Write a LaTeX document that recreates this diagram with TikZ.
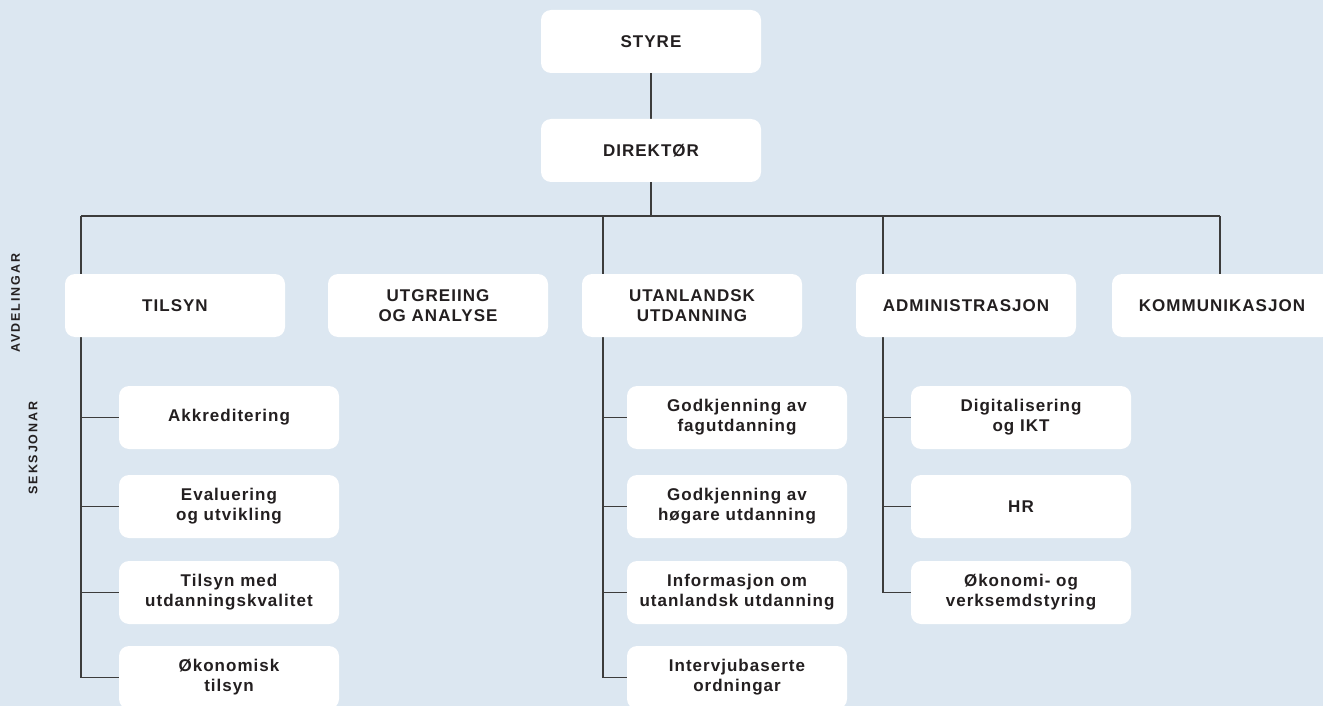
\documentclass[tikz,border=0pt]{standalone}
\usepackage{fontspec}
\setmainfont{Liberation Sans}
\newfontfamily\boxfont[LetterSpace=6]{Liberation Sans}
\newfontfamily\sidefont[LetterSpace=15]{Liberation Sans}
\definecolor{bgblue}{HTML}{DCE7F1}
\definecolor{inktext}{HTML}{231F20}
\definecolor{linegray}{HTML}{3C3C3C}
\pgfdeclarelayer{background}
\pgfsetlayers{background,main}
\tikzset{
  orgbox/.style={draw=none, fill=white, rounded corners=10pt, minimum width=220pt,
    minimum height=63pt, inner sep=0pt, align=center, text=inktext,
    font=\boxfont\bfseries\fontsize{17}{20}\selectfont},
  conn/.style={draw=linegray, line width=1.1pt},
  sidelabel/.style={rotate=90, text=inktext, inner sep=0pt,
    font=\sidefont\bfseries\fontsize{12.5}{14}\selectfont}
}
\begin{document}
\begin{tikzpicture}[x=1pt, y=-1pt]
\useasboundingbox (0,0) rectangle (1323,706);
\clip (0,0) rectangle (1323,706);
% top
\node[orgbox] (styre) at (651,41.5) {STYRE};
\node[orgbox] (dir) at (651,150.5) {DIREKTØR};
% departments
\node[orgbox] (tilsyn) at (175,305.5) {TILSYN};
\node[orgbox] (utgr) at (438,305.5) {UTGREIING\\OG ANALYSE};
\node[orgbox] (utan) at (692,305.5) {UTANLANDSK\\UTDANNING};
\node[orgbox] (adm) at (966,305.5) {ADMINISTRASJON};
\node[orgbox] (kom) at (1222,305.5) {KOMMUNIKASJON};
% sections tilsyn
\node[orgbox] (t1) at (229,417.5) {Akkreditering};
\node[orgbox] (t2) at (229,506.5) {Evaluering\\og utvikling};
\node[orgbox] (t3) at (229,592.5) {Tilsyn med\\utdanningskvalitet};
\node[orgbox] (t4) at (229,677.5) {Økonomisk\\tilsyn};
% sections utanlandsk
\node[orgbox] (m1) at (737,417.5) {Godkjenning av\\fagutdanning};
\node[orgbox] (m2) at (737,506.5) {Godkjenning av\\høgare utdanning};
\node[orgbox] (m3) at (737,592.5) {Informasjon om\\utanlandsk utdanning};
\node[orgbox] (m4) at (737,677.5) {Intervjubaserte\\ordningar};
% sections administrasjon
\node[orgbox] (a1) at (1021,417.5) {Digitalisering\\og IKT};
\node[orgbox] (a2) at (1021,506.5) {HR};
\node[orgbox] (a3) at (1021,592.5) {Økonomi- og\\verksemdstyring};
% side labels
\node[sidelabel] (avd) at (15.5,303) {AVDELINGAR};
\node[sidelabel] (seks) at (33,448) {SEKSJONAR};
% bus coordinates
\coordinate (busL) at (81,216);
\coordinate (busR) at (1220,216);
\coordinate (busU) at (603,216);
\coordinate (busA) at (883,216);
\begin{pgfonlayer}{background}
\fill[bgblue] (0,0) rectangle (1323,706);
\draw[conn] (styre.south) -- (dir.north);
\draw[conn] (dir.south) -- (dir.south |- busL);
\draw[conn] (busL) -- (busR);
\draw[conn] (busR) -- (busR |- kom.north);
% tilsyn trunk
\draw[conn] (busL) |- (t4.west);
\draw[conn] (busL |- t1.west) -- (t1.west);
\draw[conn] (busL |- t2.west) -- (t2.west);
\draw[conn] (busL |- t3.west) -- (t3.west);
% utanlandsk trunk
\draw[conn] (busU) |- (m4.west);
\draw[conn] (busU |- m1.west) -- (m1.west);
\draw[conn] (busU |- m2.west) -- (m2.west);
\draw[conn] (busU |- m3.west) -- (m3.west);
% administrasjon trunk
\draw[conn] (busA) |- (a3.west);
\draw[conn] (busA |- a1.west) -- (a1.west);
\draw[conn] (busA |- a2.west) -- (a2.west);
\end{pgfonlayer}
\end{tikzpicture}
\end{document}
